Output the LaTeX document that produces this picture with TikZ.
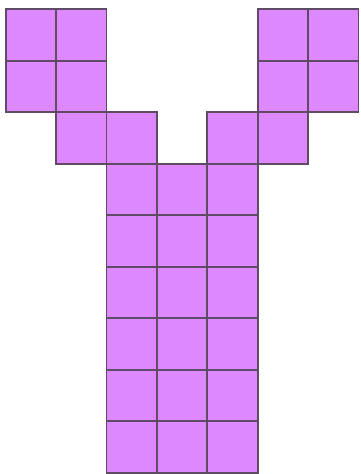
\documentclass[tikz,border=0pt]{standalone}
\definecolor{cellfill}{RGB}{221,136,255}
\definecolor{cellline}{RGB}{95,75,100}
\begin{document}
\begin{tikzpicture}[x=1pt,y=-1pt,
  cell/.style={fill=cellfill,draw=cellline,line width=1.8pt}]
\useasboundingbox (0,0) rectangle (360,474);
\def\cw{50.4}\def\ch{51.5}\def\ox{5.7}\def\oy{9.2}
\foreach \c/\r in {0/0,1/0,5/0,6/0,0/1,1/1,5/1,6/1,1/2,2/2,4/2,5/2,
  2/3,3/3,4/3,2/4,3/4,4/4,2/5,3/5,4/5,2/6,3/6,4/6,2/7,3/7,4/7,2/8,3/8,4/8}{
  \draw[cell] ({\ox+\c*\cw},{\oy+\r*\ch}) rectangle ({\ox+(\c+1)*\cw},{\oy+(\r+1)*\ch});
}
\end{tikzpicture}
\end{document}
